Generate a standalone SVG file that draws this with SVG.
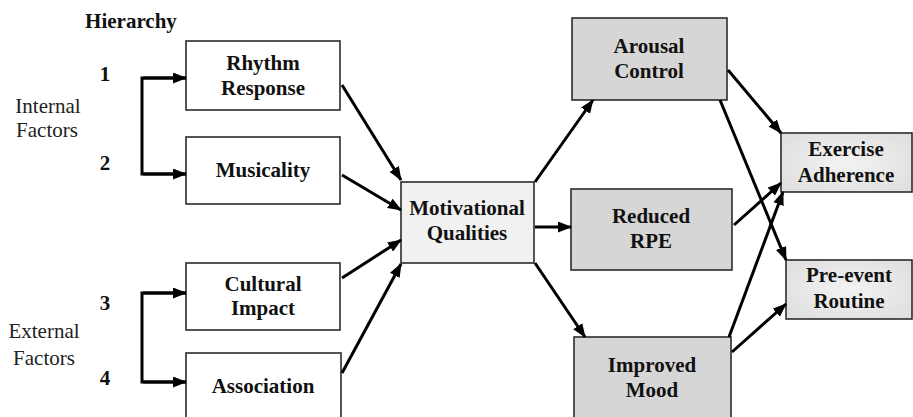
<svg xmlns="http://www.w3.org/2000/svg" width="913" height="417" viewBox="0 0 913 417">
  <defs>
    <marker id="arrow" markerUnits="userSpaceOnUse" markerWidth="14" markerHeight="11" refX="13" refY="5.5" orient="auto">
      <path d="M0,0 L14,5.5 L0,11 z" fill="#000"/>
    </marker>
    <radialGradient id="outcomeFill" cx="50%" cy="50%" r="60%">
      <stop offset="0" stop-color="#f3f3f3"/>
      <stop offset="1" stop-color="#e0e0e0"/>
    </radialGradient>
    <style>
      .box { stroke: #2b2b2b; stroke-width: 1.6; }
      .plain { fill: #ffffff; }
      .core { fill: #f1f1f1; }
      .effect { fill: #d6d6d6; }
      .outcome { fill: url(#outcomeFill); }
      .lbl { font-family: "Liberation Serif", "Times New Roman", serif; font-size: 21px; font-weight: bold; text-anchor: middle; fill: #111; }
      .side { font-family: "Liberation Serif", "Times New Roman", serif; font-size: 21px; text-anchor: middle; fill: #222; }
      .conn { stroke: #000; stroke-width: 3; fill: none; marker-end: url(#arrow); }
      .bracket { stroke: #000; stroke-width: 3; fill: none; }
    </style>
  </defs>

  <!-- Hierarchy legend -->
  <g id="legend">
    <text class="lbl" x="131" y="28">Hierarchy</text>
    <text class="lbl" x="105" y="81">1</text>
    <text class="lbl" x="105" y="170">2</text>
    <text class="lbl" x="105" y="310">3</text>
    <text class="lbl" x="105" y="385">4</text>
    <text class="side" x="48" y="113">Internal</text>
    <text class="side" x="47" y="137">Factors</text>
    <text class="side" x="44" y="338">External</text>
    <text class="side" x="44" y="365">Factors</text>
  </g>

  <!-- Factor nodes -->
  <g id="rhythm-response">
    <rect class="box plain" x="186" y="41" width="154" height="69"/>
    <text class="lbl" x="263" y="70">Rhythm</text>
    <text class="lbl" x="263" y="95">Response</text>
  </g>
  <g id="musicality">
    <rect class="box plain" x="186" y="137" width="154" height="67"/>
    <text class="lbl" x="263" y="177">Musicality</text>
  </g>
  <g id="cultural-impact">
    <rect class="box plain" x="186" y="263" width="154" height="67"/>
    <text class="lbl" x="263" y="291">Cultural</text>
    <text class="lbl" x="263" y="315">Impact</text>
  </g>
  <g id="association">
    <rect class="box plain" x="186" y="353" width="155" height="70"/>
    <text class="lbl" x="263" y="393">Association</text>
  </g>

  <!-- Central node -->
  <g id="motivational-qualities">
    <rect class="box core" x="401" y="182" width="133" height="81"/>
    <text class="lbl" x="467" y="215">Motivational</text>
    <text class="lbl" x="467" y="240">Qualities</text>
  </g>

  <!-- Effects -->
  <g id="arousal-control">
    <rect class="box effect" x="572" y="18" width="155" height="82"/>
    <text class="lbl" x="649" y="53">Arousal</text>
    <text class="lbl" x="649" y="78">Control</text>
  </g>
  <g id="reduced-rpe">
    <rect class="box effect" x="571" y="189" width="161" height="81"/>
    <text class="lbl" x="651" y="223">Reduced</text>
    <text class="lbl" x="651" y="248">RPE</text>
  </g>
  <g id="improved-mood">
    <rect class="box effect" x="574" y="337" width="157" height="86"/>
    <text class="lbl" x="652" y="372">Improved</text>
    <text class="lbl" x="652" y="397">Mood</text>
  </g>

  <!-- Outcomes -->
  <g id="exercise-adherence">
    <rect class="box outcome" x="781" y="133" width="131" height="59"/>
    <text class="lbl" x="846" y="156">Exercise</text>
    <text class="lbl" x="846" y="182">Adherence</text>
  </g>
  <g id="pre-event-routine">
    <rect class="box outcome" x="786" y="260" width="126" height="59"/>
    <text class="lbl" x="849" y="282">Pre-event</text>
    <text class="lbl" x="849" y="308">Routine</text>
  </g>

  <!-- Connectors -->
  <g id="connectors">
    <path class="bracket" d="M186,78 H142 V174 H186"/>
    <path class="conn" d="M143,78 H186"/>
    <path class="conn" d="M143,174 H186"/>
    <path class="bracket" d="M186,293 H142 V382 H186"/>
    <path class="conn" d="M143,293 H186"/>
    <path class="conn" d="M143,382 H186"/>

    <line class="conn" x1="342" y1="85" x2="401" y2="180"/>
    <line class="conn" x1="342" y1="175" x2="401" y2="210"/>
    <line class="conn" x1="342" y1="278" x2="401" y2="240"/>
    <line class="conn" x1="342" y1="373" x2="401" y2="264"/>

    <line class="conn" x1="535" y1="182" x2="593" y2="100"/>
    <line class="conn" x1="535" y1="227" x2="571" y2="227"/>
    <line class="conn" x1="535" y1="263" x2="585" y2="337"/>

    <line class="conn" x1="728" y1="70" x2="781" y2="133"/>
    <line class="conn" x1="720" y1="100" x2="786" y2="260"/>
    <line class="conn" x1="734" y1="225" x2="781" y2="183"/>
    <line class="conn" x1="729" y1="337" x2="783" y2="192"/>
    <line class="conn" x1="732" y1="352" x2="786" y2="304"/>
  </g>
</svg>
